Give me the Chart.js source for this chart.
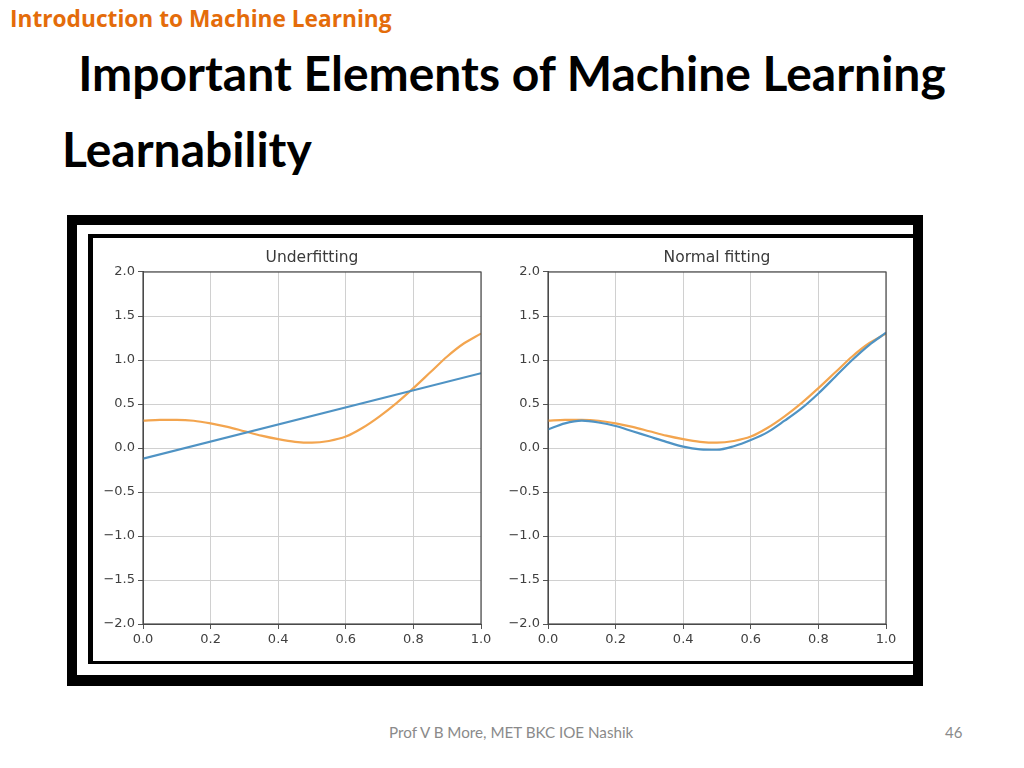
<!DOCTYPE html>
<html>
<head>
<meta charset="utf-8">
<script src="https://cdn.jsdelivr.net/npm/chart.js@4.4.0/dist/chart.umd.min.js"></script>
<style>
  html, body { margin:0; padding:0; background:#fff; }
  body { width:1024px; height:768px; position:relative; overflow:hidden; }
  .abs { position:absolute; white-space:nowrap; }
  #hdr { left:10px; top:8px; font:bold 22.7px/22.5px "Open Sans", sans-serif; color:#e46c0a; }
  #title { left:0; width:1024px; text-align:center; top:49px; font:bold 48px/48px Lato, sans-serif; color:#000; }
  #sub { left:62px; top:125px; font:bold 48px/48px Lato, sans-serif; color:#000; }
  #foot { left:389px; top:725px; font:15.2px/15px Lato, sans-serif; color:#8a8a8a; }
  #page { left:945px; top:725px; font:15px/15px Lato, sans-serif; color:#8a8a8a; }
  #outer { left:67px; top:215px; width:856px; height:471px; background:#000; }
  #white { left:77px; top:225px; width:836px; height:450px; background:#fff; }
  #inner { left:88px; top:234px; width:825px; height:430px; box-sizing:border-box;
           border-left:5px solid #000; border-top:4px solid #000; border-bottom:3px solid #000; background:#fff; }
  canvas { position:absolute; }
</style>
</head>
<body>
<div class="abs" id="hdr">Introduction to Machine Learning</div>
<div class="abs" id="title">Important Elements of Machine Learning</div>
<div class="abs" id="sub">Learnability</div>
<div class="abs" id="outer"></div>
<div class="abs" id="white"></div>
<div class="abs" id="inner"></div>
<div class="abs" style="left:95px;top:240px;width:400px;height:410px;"><canvas id="c1" width="400" height="410"></canvas></div>
<div class="abs" style="left:500px;top:240px;width:400px;height:410px;"><canvas id="c2" width="400" height="410"></canvas></div>
<div class="abs" id="foot">Prof V B More, MET BKC IOE Nashik</div>
<div class="abs" id="page">46</div>
<script>
// ---- data ----
const xs = [0.00,0.05,0.10,0.15,0.20,0.25,0.30,0.35,0.40,0.45,0.50,0.55,0.60,0.65,0.70,0.75,0.80,0.85,0.90,0.95,1.00];
const trueY = [0.31,0.32,0.32,0.31,0.28,0.24,0.19,0.14,0.10,0.07,0.06,0.08,0.13,0.23,0.36,0.51,0.68,0.86,1.04,1.19,1.30];
const normalFitY = [0.21,0.28,0.31,0.29,0.25,0.19,0.13,0.07,0.015,-0.015,-0.02,0.02,0.09,0.18,0.31,0.45,0.62,0.81,1.00,1.17,1.31];
const underX = [0.0, 1.0];
const underFitY = [-0.12, 0.85];
const xTicks = [0.0,0.2,0.4,0.6,0.8,1.0];
const yTicks = [-2.0,-1.5,-1.0,-0.5,0.0,0.5,1.0,1.5,2.0];
const titles = ["Underfitting", "Normal fitting"];

const BLUE = '#4f93c4';
const ORANGE = '#f3a54f';

function pts(x, y) { return x.map((v, i) => ({ x: v, y: y[i] })); }
function fmt(v) { return v.toFixed(1).replace('-', '\u2212'); }

const framePlugin = {
  id: 'frame',
  afterDraw(chart) {
    const a = chart.chartArea, ctx = chart.ctx;
    ctx.save();
    ctx.strokeStyle = '#4a4a4a';
    ctx.lineWidth = 1.2;
    ctx.strokeRect(a.left, a.top, a.right - a.left, a.bottom - a.top);
    ctx.restore();
  }
};

function makeChart(id, title, datasets) {
  return new Chart(document.getElementById(id), {
    type: 'line',
    data: { datasets },
    options: {
      responsive: false,
      animation: false,
      devicePixelRatio: 1,
      layout: { padding: { left: 0, right: 14, top: 0, bottom: 0 } },
      plugins: {
        legend: { display: false },
        tooltip: { enabled: false },
        title: {
          display: true, text: title, color: '#3a3a3a', fullSize: false,
          font: { family: 'DejaVu Sans', size: 15.5, weight: 'normal' },
          padding: { top: 8.7, bottom: 4.7 }
        }
      },
      elements: { point: { radius: 0 } },
      scales: {
        x: {
          type: 'linear', min: 0, max: 1,
          afterBuildTicks(s) { s.ticks = xTicks.map(v => ({ value: v })); },
          afterFit(s) { s.height = 26; },
          ticks: { callback: v => fmt(v), color: '#404040', padding: 3, maxRotation: 0,
                   font: { family: 'DejaVu Sans', size: 13 } },
          grid: { color: '#d0d0d0', lineWidth: 1, tickLength: 5, tickColor: '#555' },
          border: { color: '#4a4a4a' }
        },
        y: {
          type: 'linear', min: -2, max: 2,
          afterBuildTicks(s) { s.ticks = yTicks.map(v => ({ value: v })); },
          afterFit(s) { s.width = 48; },
          ticks: { callback: v => fmt(v), color: '#404040', padding: 3,
                   font: { family: 'DejaVu Sans', size: 13 } },
          grid: { color: '#d0d0d0', lineWidth: 1, tickLength: 5, tickColor: '#555' },
          border: { color: '#4a4a4a' }
        }
      }
    },
    plugins: [framePlugin]
  });
}

makeChart('c1', titles[0], [
  { data: pts(underX, underFitY), borderColor: BLUE, borderWidth: 2.2, tension: 0 },
  { data: pts(xs, trueY), borderColor: ORANGE, borderWidth: 2.2, cubicInterpolationMode: 'monotone' }
]);
makeChart('c2', titles[1], [
  { data: pts(xs, normalFitY), borderColor: BLUE, borderWidth: 2.2, cubicInterpolationMode: 'monotone' },
  { data: pts(xs, trueY), borderColor: ORANGE, borderWidth: 2.2, cubicInterpolationMode: 'monotone' }
]);
</script>
</body>
</html>
